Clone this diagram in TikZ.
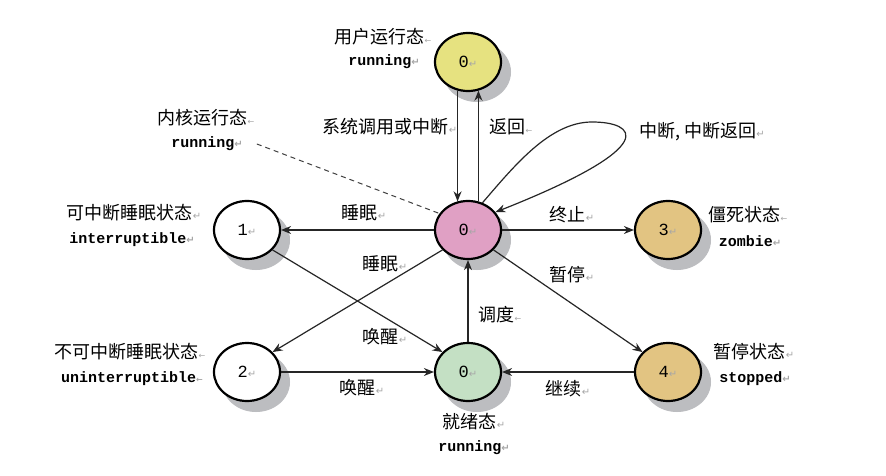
\documentclass[tikz,border=0pt]{standalone}
\usepackage{fontspec}
\setmainfont{Liberation Sans}
\newfontfamily\cjk{Noto Sans CJK SC}
\newfontfamily\mono{Liberation Mono}
\newfontfamily\symf{DejaVu Sans}
\usetikzlibrary{shapes.geometric,arrows.meta}
\definecolor{cyellow}{RGB}{230,226,128}
\definecolor{cpink}{RGB}{224,160,196}
\definecolor{cgreen}{RGB}{196,224,196}
\definecolor{corange}{RGB}{226,196,130}
\definecolor{cshadow}{RGB}{188,189,192}
\newcommand\rmk{{\symf\fontsize{10}{10}\selectfont\color{gray!70}↵}}
\newcommand\lmk{{\symf\fontsize{8}{8}\selectfont\color{gray!70}←}}
\begin{document}
\begin{tikzpicture}[x=1pt,y=-1pt,
  state/.style={ellipse, draw=black, line width=2.2pt, minimum width=66pt, minimum height=58pt, inner sep=0pt,
    font=\mono\fontsize{17}{17}\selectfont},
  shadownode/.style={ellipse, fill=cshadow, draw=cshadow, line width=1pt, minimum width=67pt, minimum height=59pt, inner sep=0pt},
  cn/.style={font=\cjk\fontsize{18}{18}\selectfont, inner sep=0pt},
  en/.style={font=\mono\bfseries\fontsize{15}{15}\selectfont, inner sep=0pt},
  edge/.style={-{Stealth[length=10pt,width=8pt]}, line width=1.2pt, draw=black!85}]
\path[use as bounding box] (0,0) rectangle (886,476);
\fill[white] (0,0) rectangle (886,476);
% shadows
\node[shadownode] (shuser) at (477,72) {};
\node[shadownode] (shkern) at (477,240) {};
\node[shadownode] (shs1) at (256,240) {};
\node[shadownode] (shs3) at (677,240) {};
\node[shadownode] (shs2) at (256,382) {};
\node[shadownode] (shready) at (477,382) {};
\node[shadownode] (shs4) at (677,382) {};
% states
\node[state, fill=cyellow] (user) at (468,62) {0\rmk};
\node[state, fill=cpink] (kern) at (468,230) {0\rmk};
\node[state, fill=white] (s1) at (247,230) {1\rmk};
\node[state, fill=corange] (s3) at (668,230) {3\rmk};
\node[state, fill=white] (s2) at (247,372) {2\rmk};
\node[state, fill=cgreen] (ready) at (468,372) {0\rmk};
\node[state, fill=corange] (s4) at (668,372) {4\rmk};
% state labels
\node[cn] (luser) at (383,37) {用户运行态\lmk};
\node[en] (luser2) at (384,62) {running\rmk};
\node[cn] (lkern) at (206,118) {内核运行态\lmk};
\node[en] (lkern2) at (207,144) {running\rmk};
\node[cn] (ls1) at (134,213) {可中断睡眠状态\rmk};
\node[en] (ls1b) at (132,240) {interruptible\rmk};
\node[cn] (ls3) at (748,215) {僵死状态\lmk};
\node[en] (ls3b) at (750,241) {zombie\rmk};
\node[cn] (ls2) at (130,352) {不可中断睡眠状态\lmk};
\node[en] (ls2b) at (132,379) {uninterruptible\lmk};
\node[cn] (ls4) at (754,352) {暂停状态\rmk};
\node[en] (ls4b) at (755,379) {stopped\rmk};
\node[cn] (lready) at (474,422) {就绪态\rmk};
\node[en] (lready2) at (474,448) {running\rmk};
% edge labels
\node[cn] (esys) at (390,127) {系统调用或中断\rmk};
\node[cn] (eret) at (511,127) {返回\lmk};
\node[cn] (eint) at (702,132) {中断, 中断返回\rmk};
\node[cn] (esleep1) at (364,213) {睡眠\rmk};
\node[cn] (eterm) at (572,215) {终止\rmk};
\node[cn] (esleep2) at (385,264) {睡眠\rmk};
\node[cn] (estop) at (572,275) {暂停\rmk};
\node[cn] (ewake1) at (385,337) {唤醒\rmk};
\node[cn] (esched) at (500,315) {调度\lmk};
\node[cn] (ewake2) at (362,388) {唤醒\rmk};
\node[cn] (econt) at (568,389) {继续\rmk};
% connectors
\draw[edge] (user.250) -- (kern.110);
\draw[edge] (kern.70) -- (user.290);
\draw[edge] (kern.west) -- (s1.east);
\draw[edge] (kern.east) -- (s3.west);
\draw[edge] (kern.218) -- (s2.38);
\draw[edge] (s1.-38) -- (ready.142);
\draw[edge] (kern.-38) -- (s4.142);
\draw[edge] (s2.east) -- (ready.west);
\draw[edge] (s4.west) -- (ready.east);
\draw[edge] (ready.north) -- (kern.south);
\coordinate (looptop) at (592,122);
\draw[edge] (kern.62) .. controls (515,165) and (550,122) .. (looptop)
  .. controls (635,122) and (665,145) .. (kern.33);
\draw[dash pattern=on 5pt off 4pt, line width=1pt, draw=black!75] ([xshift=14pt]lkern2.east) -- (kern.150);
\end{tikzpicture}
\end{document}
